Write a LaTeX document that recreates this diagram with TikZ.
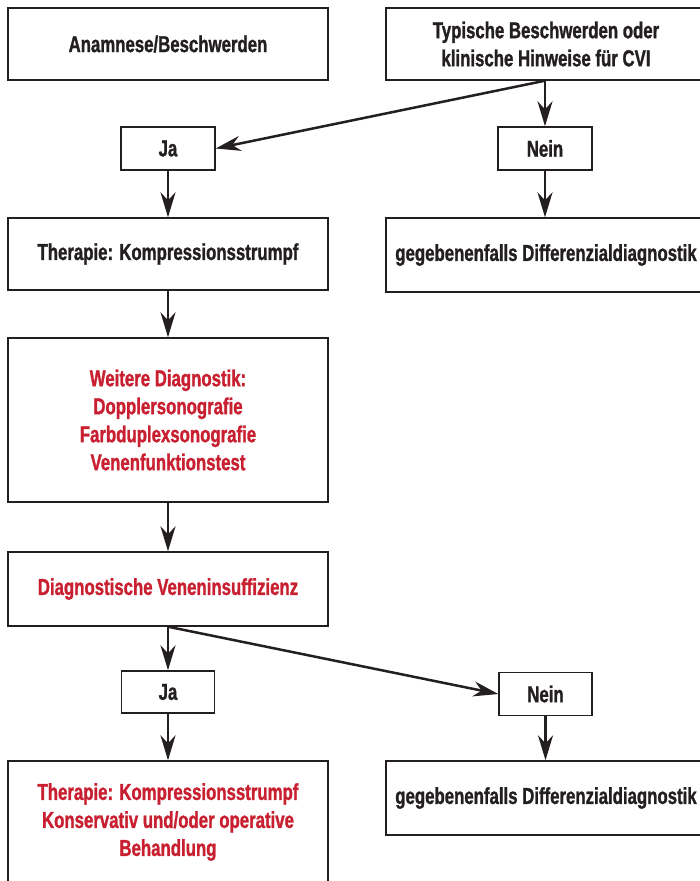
\documentclass[tikz,border=0pt]{standalone}
\usepackage{fontspec}
\setmainfont{Liberation Sans}[FakeStretch=0.73,BoldFeatures={FakeBold=1.2}]
\usetikzlibrary{arrows.meta,calc}
\definecolor{ink}{RGB}{35,31,32}
\definecolor{rot}{RGB}{200,32,48}
\begin{document}
\begin{tikzpicture}[x=1pt,y=-1pt,
  box/.style={draw=ink,line width=1.4pt,inner sep=0pt,align=center,
    font=\fontsize{23}{28}\selectfont\bfseries,text=ink},
  redtext/.style={text=rot},
  arr/.style={draw=ink,line width=2.5pt,-{Stealth[length=25pt,width=15pt,inset=8pt]}}]
\useasboundingbox (0,0) rectangle (700,881);
\clip (0,0) rectangle (700,881);
\node[box,minimum width=320pt,minimum height=72pt] (A) at (168,44) {Anamnese/Beschwerden};
\node[box,minimum width=320pt,minimum height=72pt] (B) at (546,44) {Typische Beschwerden oder\\klinische Hinweise für CVI};
\node[box,minimum width=94pt,minimum height=43pt] (ja1) at (168,148.5) {Ja};
\node[box,minimum width=94pt,minimum height=43pt] (nein1) at (545,148.5) {Nein};
\node[box,minimum width=320pt,minimum height=72pt] (ther) at (168,254) {Therapie: Kompressionsstrumpf};
\node[box,minimum width=320pt,minimum height=74pt] (diff1) at (546,255) {gegebenenfalls Differenzialdiagnostik};
\node[box,redtext,minimum width=320pt,minimum height=164pt] (weit) at (168,420) {Weitere Diagnostik:\\Dopplersonografie\\Farbduplexsonografie\\Venenfunktionstest};
\node[box,redtext,minimum width=320pt,minimum height=74pt] (diag) at (168,589) {Diagnostische Veneninsuffizienz};
\node[box,minimum width=93pt,minimum height=42pt] (ja2) at (168,692) {Ja};
\node[box,minimum width=93pt,minimum height=43pt] (nein2) at (545.5,694) {Nein};
\node[box,minimum width=320pt,minimum height=74pt] (diff2) at (546,798) {gegebenenfalls Differenzialdiagnostik};
\node[box,redtext,minimum width=320pt,minimum height=122pt] (beh) at (168,822) {Therapie: Kompressionsstrumpf\\Konservativ und/oder operative\\Behandlung};
\coordinate (bs) at (nein1 |- B.south);
\draw[arr] (bs) -- (nein1.north);
\draw[arr] (bs) -- (ja1.east);
\draw[arr] (ja1.south) -- (ther.north);
\draw[arr] (nein1.south) -- (diff1.north -| nein1.south);
\draw[arr] (ther.south) -- (weit.north);
\draw[arr] (weit.south) -- (diag.north);
\draw[arr] (diag.south) -- (ja2.north);
\draw[arr] (diag.south) -- (nein2.west);
\draw[arr] (ja2.south) -- (beh.north);
\draw[arr] (nein2.south) -- (diff2.north -| nein2.south);
\end{tikzpicture}
\end{document}
